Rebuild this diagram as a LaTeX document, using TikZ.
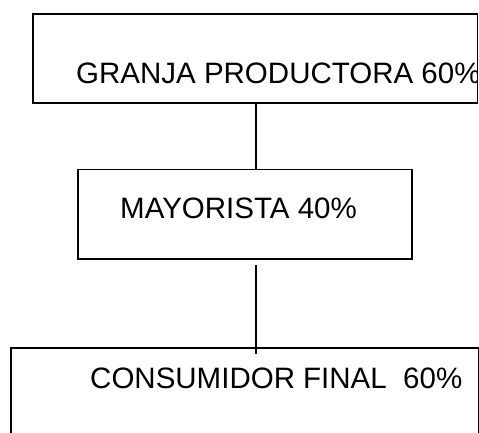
\documentclass[tikz,border=0pt]{standalone}
\usepackage{fontspec}
\setmainfont{Liberation Sans}
\begin{document}
\begin{tikzpicture}[x=1pt,y=-1pt,
  boxline/.style={draw=black,line width=1.3pt},
  conn/.style={draw=black,line width=1.3pt},
  lbl/.style={anchor=base west,inner sep=0pt,font=\fontsize{29.5}{32}\selectfont}]
\useasboundingbox (0,0) rectangle (479,432);
\clip (0,0) rectangle (479,432);
% box 1
\coordinate (b1nw) at (33,14);
\coordinate (b1se) at (477.5,103);
\begin{scope}
\clip (b1nw) rectangle (b1se);
\node[lbl] (t1) at (76,83) {GRANJA PRODUCTORA 60\%};
\end{scope}
\draw[boxline] (b1nw) rectangle (b1se);
% box 2
\coordinate (b2nw) at (78,169.5);
\coordinate (b2se) at (412,259);
\draw[boxline] (b2nw) rectangle (b2se);
\node[lbl] (t2) at (120,218) {MAYORISTA 40\%};
% box 3
\coordinate (b3nw) at (11,348);
\coordinate (b3se) at (478.5,440);
\draw[boxline] (b3nw) rectangle (b3se);
\node[lbl] (t3) at (90,388) {CONSUMIDOR FINAL\ \ 60\%};
% connectors
\coordinate (c1a) at (256,103);
\coordinate (c1b) at (256,169.5);
\coordinate (c2a) at (256,265);
\coordinate (c2b) at (256,354);
\draw[conn] (c1a) -- (c1b);
\draw[conn] (c2a) -- (c2b);
\end{tikzpicture}
\end{document}
